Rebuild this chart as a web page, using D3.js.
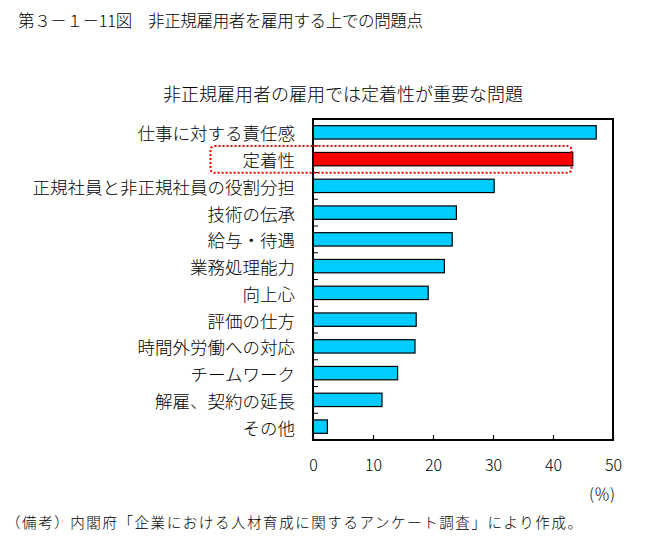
<!DOCTYPE html>
<html>
<head>
<meta charset="utf-8">
<script src="https://cdn.jsdelivr.net/npm/d3@7"></script>
<style>
  html, body { margin: 0; padding: 0; background: #fff; }
  svg { display: block; }
  text { font-family: "Noto Sans CJK JP", "Noto Sans", sans-serif; fill: #000; font-weight: 300; }
</style>
</head>
<body>
<svg id="chart" width="654" height="542"></svg>
<script>
const categories = ["仕事に対する責任感", "定着性", "正規社員と非正規社員の役割分担", "技術の伝承", "給与・待遇", "業務処理能力", "向上心", "評価の仕方", "時間外労働への対応", "チームワーク", "解雇、契約の延長", "その他"];
const values = [47.2, 43.3, 30.2, 23.9, 23.2, 21.9, 19.2, 17.2, 17.0, 14.1, 11.5, 2.4];
const highlighted = ["定着性"];
const xTicks = [0, 10, 20, 30, 40, 50];
const title = "第３－１－11図　非正規雇用者を雇用する上での問題点";
const subtitle = "非正規雇用者の雇用では定着性が重要な問題";
const unitLabel = "(％)";
const note = "（備考）内閣府「企業における人材育成に関するアンケート調査」により作成。";

const svg = d3.select("#chart");
const L = 313, R = 613, T = 119, B = 440;

const x = d3.scaleLinear().domain([0, 50]).range([L, R]);
const y = d3.scaleBand().domain(categories).range([T, B]).paddingInner(0.5).paddingOuter(0.25);

svg.append("text").attr("x", 18).attr("y", 20).attr("dominant-baseline", "central")
  .attr("font-size", 16.5).attr("textLength", 405).attr("lengthAdjust", "spacing").text(title);
svg.append("text").attr("x", 343).attr("y", 93).attr("text-anchor", "middle").attr("dominant-baseline", "central")
  .attr("font-size", 18).text(subtitle);

// bars
svg.append("g").selectAll("rect").data(categories).join("rect")
  .attr("x", x(0))
  .attr("y", d => y(d))
  .attr("width", (d, i) => x(values[i]) - x(0))
  .attr("height", y.bandwidth())
  .attr("fill", d => highlighted.includes(d) ? "#ff0000" : "#00ccff")
  .attr("stroke", "#000").attr("stroke-width", 1.2);

// category labels
svg.append("g").selectAll("text").data(categories).join("text")
  .attr("x", 295)
  .attr("y", d => y(d) + y.bandwidth() / 2 + 0.5)
  .attr("text-anchor", "end").attr("dominant-baseline", "central")
  .attr("font-size", 17.5).text(d => d);

// inner left ticks at category boundaries
const step = y.step();
const bounds = categories.slice(1).map(d => y(d) - (step - y.bandwidth()) / 2);
svg.append("g").selectAll("line").data(bounds).join("line")
  .attr("x1", L).attr("x2", L + 5).attr("y1", d => d).attr("y2", d => d)
  .attr("stroke", "#000").attr("stroke-width", 1);

// bottom axis (ticks inward)
const xAxis = d3.axisBottom(x).tickValues(xTicks).tickSize(-5).tickPadding(20).tickFormat(d3.format("d"));
const gx = svg.append("g").attr("transform", `translate(0,${B})`).call(xAxis);
gx.select(".domain").remove();
gx.selectAll(".tick line").attr("stroke", "#000").attr("stroke-width", 1.2);
gx.selectAll(".tick text").attr("font-size", 16).attr("font-family", "\"Noto Sans CJK JP\", sans-serif").attr("fill", "#000");

// frame
svg.append("rect").attr("x", L).attr("y", T).attr("width", R - L).attr("height", B - T)
  .attr("fill", "none").attr("stroke", "#000").attr("stroke-width", 2);

// highlight dotted box
const hy = y("定着性");
svg.append("rect")
  .attr("x", 210.5).attr("y", hy - 6.5)
  .attr("width", 361).attr("height", y.bandwidth() + 13.5)
  .attr("rx", 4).attr("ry", 4)
  .attr("fill", "none").attr("stroke", "#ff0000").attr("stroke-width", 2)
  .attr("stroke-dasharray", "2,2");

svg.append("text").attr("x", 602).attr("y", 493).attr("text-anchor", "middle").attr("dominant-baseline", "central")
  .attr("font-size", 16).text(unitLabel);

svg.append("text").attr("x", 6).attr("y", 521).attr("dominant-baseline", "central")
  .attr("font-size", 14.5).attr("textLength", 576).attr("lengthAdjust", "spacing").text(note);
</script>
</body>
</html>
